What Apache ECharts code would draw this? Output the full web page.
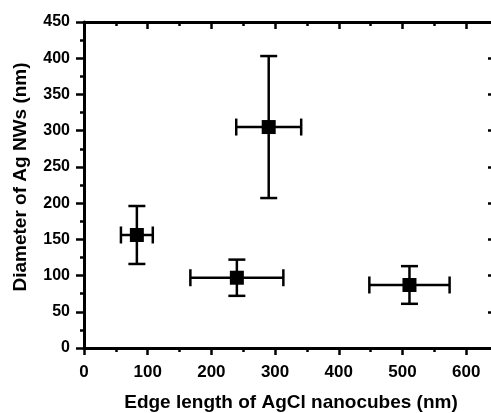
<!DOCTYPE html>
<html>
<head>
<meta charset="utf-8">
<script src="https://cdn.jsdelivr.net/npm/echarts@6/dist/echarts.min.js"></script>
<style>
    html, body { margin: 0; padding: 0; background: #fff; }
    #chart { width: 491px; height: 413px; }
</style>
</head>
<body>
<div id="chart"></div>
<script>
// edge length of AgCl nanocubes (nm) and its spread
const edgeLength = [83, 240, 290, 511]
const edgeErr = [25, 73, 51, 63]
// diameter of Ag NWs (nm) and its spread
const diameter = [156, 97, 305, 87]
const diameterErr = [40, 25, 98, 26]

const fontFamily = '"Liberation Sans", Arial, sans-serif'
const capHalf = 8.5

const points = edgeLength.map((x, i) => [x, diameter[i], edgeErr[i], diameterErr[i]])

function renderErrorBar (params, api) {
    const x = api.value(0)
    const y = api.value(1)
    const dx = api.value(2)
    const dy = api.value(3)
    const left = api.coord([x - dx, y])
    const right = api.coord([x + dx, y])
    const top = api.coord([x, y + dy])
    const bottom = api.coord([x, y - dy])
    const style = { stroke: '#000', lineWidth: 2.5 }
    const line = (x1, y1, x2, y2) => ({ type: 'line', shape: { x1, y1, x2, y2 }, style })
    return {
        type: 'group',
        children: [
            line(left[0], left[1], right[0], right[1]),
            line(left[0], left[1] - capHalf, left[0], left[1] + capHalf),
            line(right[0], right[1] - capHalf, right[0], right[1] + capHalf),
            line(top[0], top[1], bottom[0], bottom[1]),
            line(top[0] - capHalf, top[1], top[0] + capHalf, top[1]),
            line(bottom[0] - capHalf, bottom[1], bottom[0] + capHalf, bottom[1])
        ]
    }
}

const axisLine = { show: true, onZero: false, lineStyle: { color: '#000', width: 3 } }
const tickStyle = { color: '#000', width: 2.5 }

const chart = echarts.init(document.getElementById('chart'))
chart.setOption({
    animation: false,
    backgroundColor: '#fff',
    grid: { left: 84, top: 22, width: 414, height: 326, outerBoundsMode: 'none', containLabel: false },
    xAxis: [
        {
            type: 'value',
            position: 'bottom',
            min: 0,
            max: 650,
            interval: 100,
            name: 'Edge length of AgCl nanocubes (nm)',
            nameLocation: 'middle',
            nameGap: 45,
            nameTextStyle: { fontFamily, fontWeight: 'bold', fontSize: 19, color: '#000' },
            axisLine,
            axisTick: { show: true, inside: false, length: 7, lineStyle: tickStyle },
            minorTick: { show: true, splitNumber: 2, length: 4, lineStyle: tickStyle },
            axisLabel: { fontFamily, fontWeight: 'bold', fontSize: 17, color: '#000', margin: 16, showMaxLabel: false },
            splitLine: { show: false }
        },
        {
            type: 'value',
            position: 'top',
            min: 0,
            max: 650,
            interval: 100,
            axisLine,
            axisTick: { show: true, inside: true, length: 7, lineStyle: tickStyle },
            minorTick: { show: true, splitNumber: 2, length: 4, lineStyle: tickStyle },
            axisLabel: { show: false },
            splitLine: { show: false }
        }
    ],
    yAxis: [
        {
            type: 'value',
            position: 'left',
            min: 0,
            max: 450,
            interval: 50,
            name: 'Diameter of Ag NWs (nm)',
            nameLocation: 'middle',
            nameGap: 54,
            nameTextStyle: { fontFamily, fontWeight: 'bold', fontSize: 19, color: '#000', padding: [0, 0, 0, 16] },
            axisLine,
            axisTick: { show: true, inside: false, length: 8, lineStyle: tickStyle },
            minorTick: { show: true, splitNumber: 2, length: 4, lineStyle: tickStyle },
            axisLabel: { fontFamily, fontWeight: 'bold', fontSize: 16, color: '#000', margin: 14 },
            splitLine: { show: false }
        },
        {
            type: 'value',
            position: 'right',
            min: 0,
            max: 450,
            interval: 50,
            axisLine,
            axisTick: { show: true, inside: true, length: 10, lineStyle: tickStyle },
            minorTick: { show: true, splitNumber: 2, length: 4, lineStyle: tickStyle },
            axisLabel: { show: false },
            splitLine: { show: false }
        }
    ],
    series: [
        {
            type: 'custom',
            renderItem: renderErrorBar,
            data: points,
            encode: { x: 0, y: 1 },
            z: 2
        },
        {
            type: 'scatter',
            symbol: 'rect',
            symbolSize: 14,
            itemStyle: { color: '#000', opacity: 1 },
            data: points.map(p => [p[0], p[1]]),
            z: 3
        }
    ]
})
</script>
</body>
</html>
